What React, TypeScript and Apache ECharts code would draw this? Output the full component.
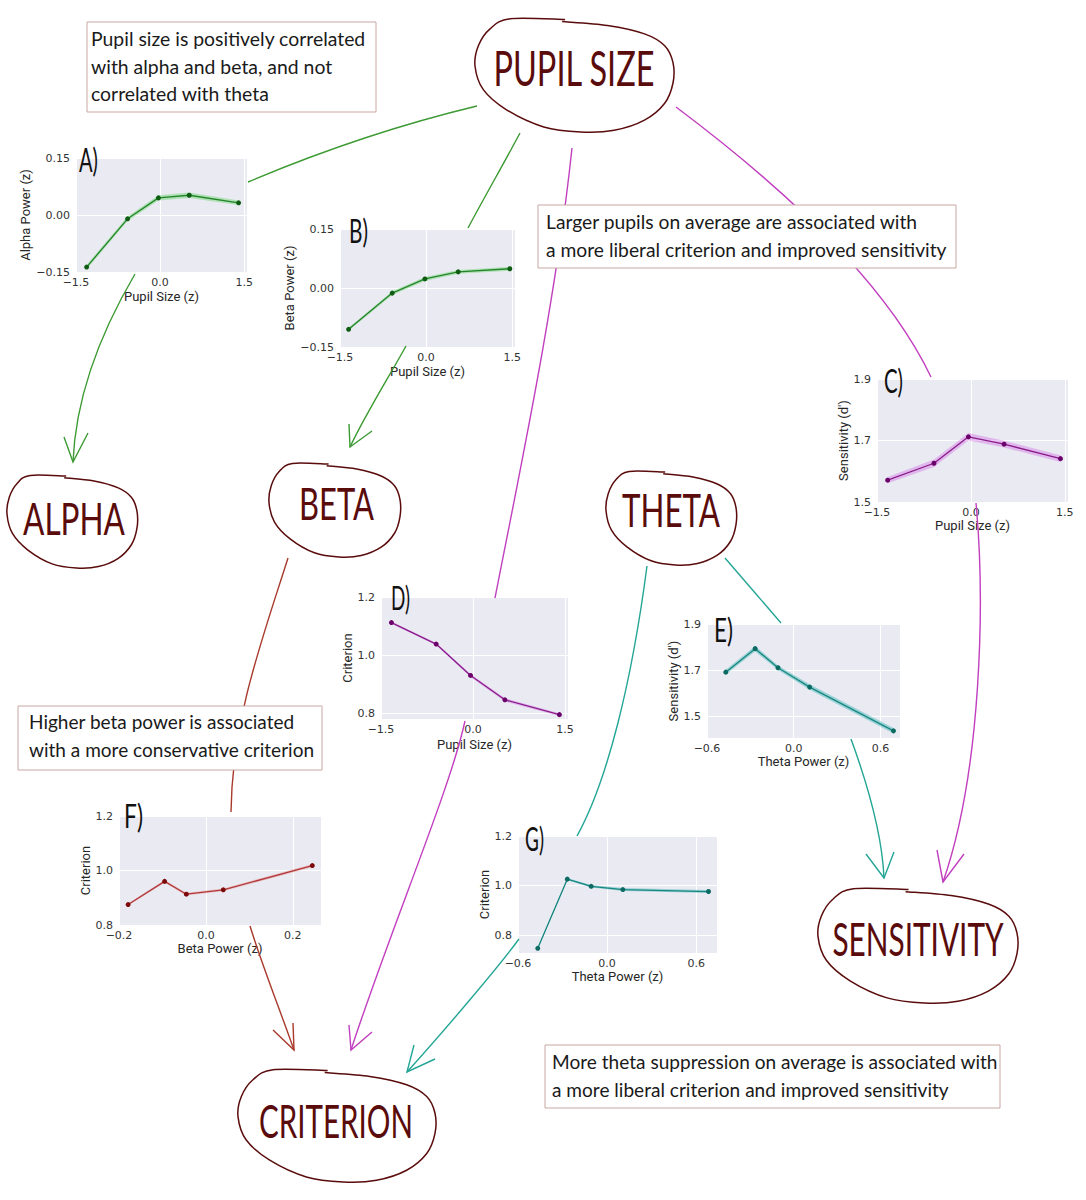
import React, { useEffect, useRef } from "react";
import * as echarts from "echarts";

// ---------------- data ----------------
const pupilX_A = [-1.31, -0.58, -0.03, 0.52, 1.4];
const alphaPower = [-0.137, -0.01, 0.045, 0.052, 0.032];
const alphaCI = [0.006, 0.006, 0.007, 0.007, 0.006];

const pupilX_B = [-1.35, -0.59, -0.02, 0.56, 1.46];
const betaPower = [-0.105, -0.013, 0.023, 0.041, 0.049];
const betaCI = [0.004, 0.005, 0.005, 0.005, 0.005];

const pupilX_C = [-1.33, -0.59, -0.04, 0.53, 1.43];
const sensByPupil = [1.571, 1.626, 1.712, 1.688, 1.641];
const sensByPupilCI = [0.01, 0.012, 0.012, 0.011, 0.011];

const pupilX_D = [-1.33, -0.6, -0.04, 0.52, 1.41];
const critByPupil = [1.112, 1.038, 0.93, 0.846, 0.795];
const critByPupilCI = [0.004, 0.004, 0.005, 0.006, 0.005];

const thetaX_E = [-0.47, -0.267, -0.109, 0.11, 0.69];
const sensByTheta = [1.691, 1.793, 1.71, 1.626, 1.436];
const sensByThetaCI = [0.01, 0.012, 0.01, 0.012, 0.012];

const betaX_F = [-0.179, -0.095, -0.045, 0.04, 0.245];
const critByBeta = [0.875, 0.96, 0.913, 0.929, 1.018];
const critByBetaCI = [0.004, 0.005, 0.005, 0.005, 0.006];

const thetaX_G = [-0.467, -0.268, -0.107, 0.106, 0.683];
const critByTheta = [0.747, 1.026, 0.997, 0.984, 0.976];
const critByThetaCI = [0.003, 0.005, 0.005, 0.006, 0.006];

// tick labels
const pupilTicks = [-1.5, 0, 1.5];
const thetaTicks = [-0.6, 0, 0.6];
const betaTicks = [-0.2, 0, 0.2];
const powerTicks = [-0.15, 0, 0.15];
const sensTicks = [1.5, 1.7, 1.9];
const critTicks = [0.8, 1.0, 1.2];

// ---------------- styles ----------------
const GREEN = { line: "#23852a", marker: "#0d5c12", band: "rgba(70,205,70,0.35)" };
const PURPLE = { line: "#8a1c8a", marker: "#6b006b", band: "rgba(205,90,225,0.35)" };
const TEAL = { line: "#17877f", marker: "#0b6b63", band: "rgba(40,175,175,0.4)" };
const RED = { line: "#b23a3a", marker: "#7d0a0a", band: "rgba(230,120,120,0.35)" };

const C_GREEN = "#3c9a32";
const C_MAG = "#c13fbf";
const C_TEAL = "#23a595";
const C_RED = "#a8392b";
const NODE = "#5a0c0c";

const panels = [
  { key: "A", xs: pupilX_A, ys: alphaPower, ci: alphaCI, xTicks: pupilTicks, yTicks: powerTicks, xDec: 1, yDec: 2, xName: "Pupil Size (z)", yName: "Alpha Power (z)", pal: GREEN, rect: [76, 158, 171, 114], xr: [-1.5, 1.55], yr: [-0.15, 0.15], xGap: 18, yGap: 38, letter: [79, 160] },
  { key: "B", xs: pupilX_B, ys: betaPower, ci: betaCI, xTicks: pupilTicks, yTicks: powerTicks, xDec: 1, yDec: 2, xName: "Pupil Size (z)", yName: "Beta Power (z)", pal: GREEN, rect: [340, 229, 175, 118], xr: [-1.5, 1.55], yr: [-0.15, 0.15], xGap: 18, yGap: 42, letter: [349, 231] },
  { key: "C", xs: pupilX_C, ys: sensByPupil, ci: sensByPupilCI, xTicks: pupilTicks, yTicks: sensTicks, xDec: 1, yDec: 1, xName: "Pupil Size (z)", yName: "Sensitivity (d')", pal: PURPLE, rect: [877, 379, 191, 123], xr: [-1.5, 1.55], yr: [1.5, 1.9], xGap: 16, yGap: 25, letter: [884, 381] },
  { key: "D", xs: pupilX_D, ys: critByPupil, ci: critByPupilCI, xTicks: pupilTicks, yTicks: critTicks, xDec: 1, yDec: 1, xName: "Pupil Size (z)", yName: "Criterion", pal: PURPLE, rect: [381, 597, 187, 122], xr: [-1.5, 1.55], yr: [0.78, 1.2], xGap: 19, yGap: 26, letter: [391, 597.5] },
  { key: "E", xs: thetaX_E, ys: sensByTheta, ci: sensByThetaCI, xTicks: thetaTicks, yTicks: sensTicks, xDec: 1, yDec: 1, xName: "Theta Power (z)", yName: "Sensitivity (d')", pal: TEAL, rect: [707, 624, 193, 114], xr: [-0.6, 0.735], yr: [1.405, 1.9], xGap: 17, yGap: 25, letter: [714, 630] },
  { key: "F", xs: betaX_F, ys: critByBeta, ci: critByBetaCI, xTicks: betaTicks, yTicks: critTicks, xDec: 1, yDec: 1, xName: "Beta Power (z)", yName: "Criterion", pal: RED, rect: [119, 816, 202, 109], xr: [-0.2, 0.265], yr: [0.8, 1.2], xGap: 16, yGap: 26, letter: [124, 815.5] },
  { key: "G", xs: thetaX_G, ys: critByTheta, ci: critByThetaCI, xTicks: thetaTicks, yTicks: critTicks, xDec: 1, yDec: 1, xName: "Theta Power (z)", yName: "Criterion", pal: TEAL, rect: [518, 836, 199, 117], xr: [-0.6, 0.74], yr: [0.728, 1.2], xGap: 15, yGap: 25, letter: [525, 839] },
];

const nodes = [
  { label: "PUPIL SIZE", cx: 574, cy: 70.5, w: 162, size: 48, blob: [475, 17, 198, 115] },
  { label: "ALPHA", cx: 74, cy: 521, w: 102, size: 45, blob: [7, 474, 130, 94] },
  { label: "BETA", cx: 336.5, cy: 506, w: 75, size: 45, blob: [269, 462, 131, 95] },
  { label: "THETA", cx: 671, cy: 512, w: 98, size: 46, blob: [606, 470, 130, 95] },
  { label: "SENSITIVITY", cx: 918, cy: 941.5, w: 171, size: 46, blob: [818, 887, 199, 116] },
  { label: "CRITERION", cx: 336, cy: 1123.5, w: 154, size: 46, blob: [238, 1068, 197, 114] },
];

const notes = [
  { rect: [87, 22, 289, 90], lines: ["Pupil size is positively correlated", "with alpha and beta, and not", "correlated with theta"], x: 91, ys: [39, 67, 94], w0: 275 },
  { rect: [538, 205, 418, 63], lines: ["Larger pupils on average are associated with", "a more liberal criterion and improved sensitivity"], x: 546, ys: [222, 250], w0: 372 },
  { rect: [18, 706, 304, 64], lines: ["Higher beta power is associated", "with a more conservative criterion"], x: 29, ys: [722, 750], w0: 266 },
  { rect: [545, 1045, 455, 63], lines: ["More theta suppression on average is associated with", "a more liberal criterion and improved sensitivity"], x: 552, ys: [1062, 1090], w0: 446 },
];

// connectors: [p0, c1, c2, p3] cubic curves, color, optional arrow head [armA, tip, armB]
const connectors: any[] = [
  { pts: [[477, 106], [402, 124], [326, 149], [248, 182]], color: C_GREEN },
  { pts: [[520, 133], [503, 165], [485, 196], [468, 228]], color: C_GREEN },
  { pts: [[135, 274], [105, 325], [76, 390], [73, 462]], color: C_GREEN, head: [[64, 437], [73, 462], [88, 433]] },
  { pts: [[406, 346], [390, 375], [365, 415], [350, 447]], color: C_GREEN, head: [[349, 424], [350, 447], [372, 431]] },
  { pts: [[572, 148], [556, 300], [520, 470], [495, 598]], color: C_MAG },
  { pts: [[465, 721], [450, 790], [390, 930], [351, 1050]], color: C_MAG, head: [[349, 1025], [351, 1050], [372, 1032]] },
  { pts: [[676, 107], [760, 170], [880, 270], [931, 377]], color: C_MAG },
  { pts: [[976, 503], [985, 600], [982, 770], [943, 882]], color: C_MAG, head: [[937, 850], [943, 882], [964, 854]] },
  { pts: [[725, 558], [744, 580], [762, 601], [781, 623]], color: C_TEAL },
  { pts: [[851, 739], [866, 780], [882, 830], [884, 878]], color: C_TEAL, head: [[866, 854], [884, 878], [894, 852]] },
  { pts: [[647, 566], [632, 680], [608, 780], [577, 836]], color: C_TEAL },
  { pts: [[519, 939], [500, 965], [445, 1030], [407, 1072]], color: C_TEAL, head: [[414, 1045], [407, 1072], [435, 1059]] },
  { pts: [[288, 558], [262, 640], [232, 720], [231, 812]], color: C_RED },
  { pts: [[250, 926], [262, 965], [280, 1010], [294, 1050]], color: C_RED, head: [[273, 1030], [294, 1050], [293, 1023]] },
];

// hand drawn blob outline (normalised)
const BLOB = [
  [0.44, 0.04], [0.669, 0.074], [0.856, 0.147], [0.958, 0.25], [1.0, 0.397], [1.0, 0.574],
  [0.958, 0.75], [0.856, 0.897], [0.703, 0.985], [0.534, 1.0], [0.347, 0.956], [0.161, 0.809],
  [0.042, 0.632], [0, 0.426], [0.017, 0.25], [0.076, 0.103], [0.178, 0.015], [0.455, 0.022],
];

const BlobShape = (echarts.graphic as any).extendShape({
  type: "blob",
  shape: { x: 0, y: 0, w: 1, h: 1 },
  buildPath(ctx: any, shape: any) {
    const p = BLOB.map(([u, v]) => [shape.x + u * shape.w, shape.y + v * shape.h]);
    const n = p.length;
    ctx.moveTo(p[0][0], p[0][1]);
    for (let i = 0; i < n - 1; i++) {
      const p0 = p[Math.max(i - 1, 0)], p1 = p[i], p2 = p[i + 1], p3 = p[Math.min(i + 2, n - 1)];
      ctx.bezierCurveTo(
        p1[0] + (p2[0] - p0[0]) / 6, p1[1] + (p2[1] - p0[1]) / 6,
        p2[0] - (p3[0] - p1[0]) / 6, p2[1] - (p3[1] - p1[1]) / 6,
        p2[0], p2[1]
      );
    }
  },
});
(echarts.graphic as any).registerShape("blob", BlobShape);

let mctx: CanvasRenderingContext2D | null = null;
function textWidth(text: string, size: number, family: string) {
  if (!mctx) mctx = document.createElement("canvas").getContext("2d");
  if (!mctx) return text.length * size * 0.5;
  mctx.font = `${size}px ${family}`;
  return mctx.measureText(text).width;
}

const fmt = (d: number) => (v: number) => (v < 0 ? "\u2212" : "") + Math.abs(v).toFixed(d);

function buildOption() {
  const grid: any[] = [];
  const xAxis: any[] = [];
  const yAxis: any[] = [];
  const series: any[] = [];
  const graphic: any[] = [];

  panels.forEach((p, i) => {
    const [l, t, w, h] = p.rect;
    grid.push({ left: l, top: t, width: w, height: h, show: true, backgroundColor: "#EAEAF2", borderWidth: 0 });
    const nameStyle = { color: "#262626", fontFamily: "Roboto", fontSize: 13 };
    const labelStyle = { color: "#333", fontSize: 11, fontFamily: "DejaVu Sans" };
    xAxis.push({
      type: "value", gridIndex: i, min: p.xr[0], max: p.xr[1],
      axisLine: { show: false },
      axisTick: { show: false, customValues: p.xTicks },
      axisLabel: { customValues: p.xTicks, formatter: fmt(p.xDec), margin: 5, ...labelStyle },
      splitLine: { show: true, lineStyle: { color: "#ffffff", width: 1 } },
      name: p.xName, nameLocation: "middle", nameGap: p.xGap, nameTextStyle: nameStyle,
    });
    yAxis.push({
      type: "value", gridIndex: i, min: p.yr[0], max: p.yr[1],
      axisLine: { show: false },
      axisTick: { show: false, customValues: p.yTicks },
      axisLabel: { customValues: p.yTicks, formatter: fmt(p.yDec), margin: 6, ...labelStyle },
      splitLine: { show: true, lineStyle: { color: "#ffffff", width: 1 } },
      name: p.yName, nameLocation: "middle", nameGap: p.yGap, nameTextStyle: nameStyle,
    });
    const xs = p.xs, ys = p.ys, ci = p.ci;
    series.push({
      type: "custom", xAxisIndex: i, yAxisIndex: i, silent: true, z: 1,
      data: xs.map((x, j) => [x, ys[j] - ci[j], ys[j] + ci[j]]),
      encode: { x: 0, y: [1, 2] },
      renderItem: (params: any, api: any) => {
        if (params.dataIndex !== 0) return null;
        const top = xs.map((x, j) => api.coord([x, ys[j] + ci[j]]));
        const bot = xs.map((x, j) => api.coord([x, ys[j] - ci[j]])).reverse();
        return { type: "polygon", shape: { points: top.concat(bot) }, style: { fill: p.pal.band } };
      },
    });
    series.push({
      type: "line", xAxisIndex: i, yAxisIndex: i, silent: true, z: 3,
      data: xs.map((x, j) => [x, ys[j]]),
      symbol: "circle", symbolSize: 5, showSymbol: true,
      lineStyle: { color: p.pal.line, width: 1.3 },
      itemStyle: { color: p.pal.marker },
    });
    // panel letter
    const ltxt = p.key + ")";
    const lsize = 32;
    const lw = textWidth(ltxt, lsize, "Lato");
    graphic.push({
      type: "text", x: p.letter[0], y: p.letter[1], z: 30, silent: true,
      scaleX: 19 / lw,
      style: { text: ltxt, fontSize: lsize, fontFamily: "Lato", fill: "#111", align: "left", verticalAlign: "middle", textAlign: "left", textVerticalAlign: "middle" },
    });
  });

  // connectors
  connectors.forEach((c) => {
    const [p0, c1, c2, p3] = c.pts;
    graphic.push({
      type: "bezierCurve", z: 50, silent: true,
      shape: { x1: p0[0], y1: p0[1], cpx1: c1[0], cpy1: c1[1], cpx2: c2[0], cpy2: c2[1], x2: p3[0], y2: p3[1] },
      style: { stroke: c.color, lineWidth: 1.4, fill: "none" },
    });
    if (c.head) {
      graphic.push({
        type: "polyline", z: 50, silent: true,
        shape: { points: c.head },
        style: { stroke: c.color, lineWidth: 1.4, fill: "none" },
      });
    }
  });

  // nodes
  nodes.forEach((n) => {
    const [bx, by, bw, bh] = n.blob;
    graphic.push({
      type: "blob", z: 40, silent: true,
      shape: { x: bx, y: by, w: bw, h: bh },
      style: { fill: "none", stroke: NODE, lineWidth: 1.5 },
    });
    const tw = textWidth(n.label, n.size, "Lato");
    graphic.push({
      type: "text", x: n.cx, y: n.cy - 3, z: 41, silent: true,
      scaleX: n.w / tw,
      style: { text: n.label, fontSize: n.size, fontFamily: "Lato", fill: NODE, align: "center", verticalAlign: "middle", textAlign: "center", textVerticalAlign: "middle" },
    });
  });

  // note boxes
  notes.forEach((b) => {
    const [rx, ry, rw, rh] = b.rect;
    graphic.push({
      type: "rect", z: 60, silent: true,
      shape: { x: rx, y: ry, width: rw, height: rh },
      style: { fill: "#ffffff", stroke: "#c7a6a2", lineWidth: 1 },
    });
    const size = 20;
    const sx = b.w0 / textWidth(b.lines[0], size, "Lato");
    b.lines.forEach((line, k) => {
      graphic.push({
        type: "text", x: b.x, y: b.ys[k] - 1, z: 61, silent: true,
        scaleX: sx,
        style: { text: line, fontSize: size, fontFamily: "Lato", fill: "#1a1a1a", align: "left", verticalAlign: "middle", textAlign: "left", textVerticalAlign: "middle" },
      });
    });
  });

  return {
    animation: false,
    backgroundColor: "#ffffff",
    grid, xAxis, yAxis, series, graphic,
  };
}

export default function App() {
  const ref = useRef<HTMLDivElement>(null);
  useEffect(() => {
    if (!ref.current) return;
    const chart = echarts.init(ref.current, null, { renderer: "svg" });
    chart.setOption(buildOption() as any);
    return () => chart.dispose();
  }, []);
  return (
    <div
      ref={ref}
      style={{ position: "absolute", left: 0, top: 0, width: 1086, height: 1200, background: "#fff" }}
    />
  );
}
